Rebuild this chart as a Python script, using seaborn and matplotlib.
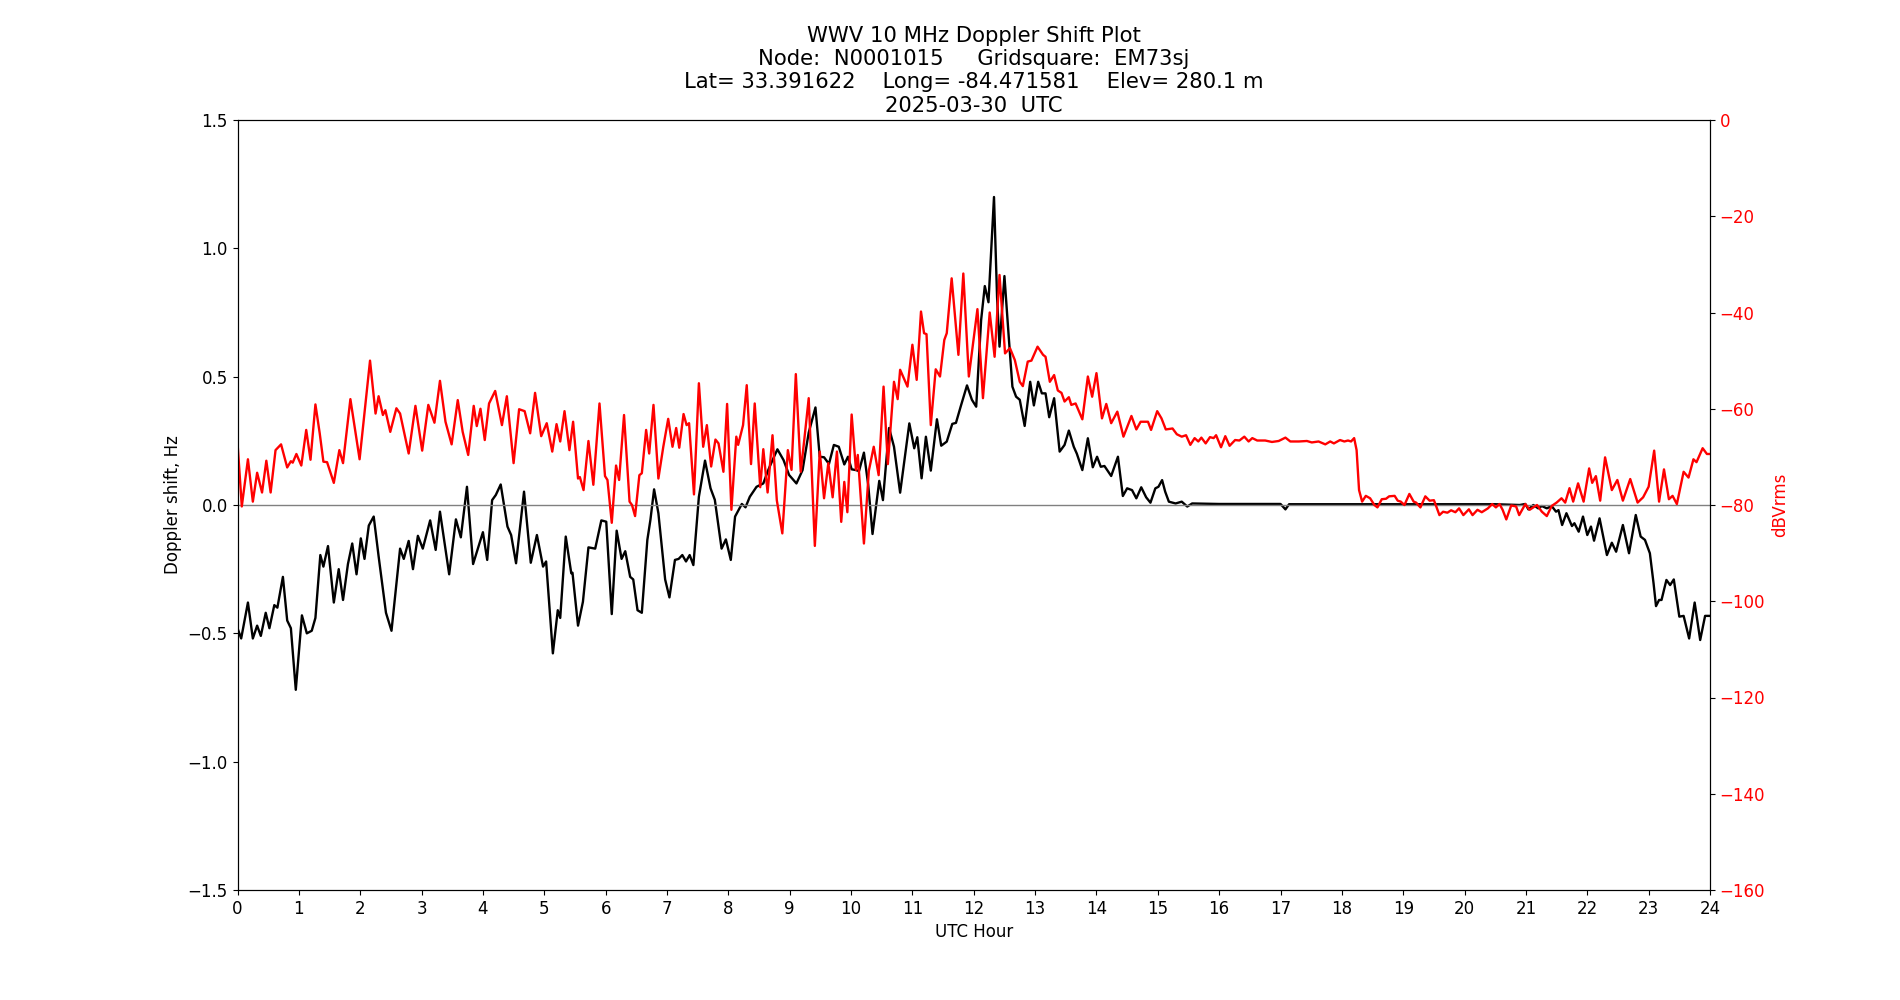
import matplotlib
matplotlib.use('Agg')
import matplotlib.pyplot as plt
import seaborn as sns
import pandas as pd

# Doppler shift (Hz) vs UTC hour
dop_hours = [0.00, 0.06, 0.17, 0.25, 0.32, 0.38, 0.46, 0.52, 0.60, 0.65, 0.74, 0.81, 0.87, 0.95,
             1.05, 1.13, 1.21, 1.27, 1.35, 1.40, 1.475, 1.57, 1.65, 1.72, 1.80, 1.87, 1.94,
             2.01, 2.07, 2.14, 2.22, 2.30, 2.42, 2.51, 2.58, 2.65, 2.71, 2.79, 2.86, 2.94,
             3.02, 3.14, 3.23, 3.30, 3.45, 3.56, 3.64, 3.74, 3.84, 3.93,
             4.00, 4.07, 4.15, 4.21, 4.29, 4.40, 4.46, 4.54, 4.67, 4.78, 4.88, 4.98,
             5.03, 5.14, 5.22, 5.26, 5.35, 5.44, 5.46, 5.55, 5.63, 5.72, 5.83, 5.93,
             6.01, 6.10, 6.18, 6.26, 6.32, 6.40, 6.45, 6.52, 6.59, 6.68, 6.73, 6.79, 6.86, 6.97,
             7.04, 7.13, 7.19, 7.25, 7.31, 7.37, 7.43, 7.52, 7.62, 7.71, 7.78, 7.89, 7.96,
             8.04, 8.11, 8.22, 8.28, 8.35, 8.46, 8.57, 8.65, 8.73, 8.80, 8.90, 8.99,
             9.11, 9.21, 9.31, 9.42, 9.49, 9.56, 9.64, 9.72, 9.80, 9.89, 9.95,
             10.01, 10.08, 10.13, 10.21, 10.28, 10.35, 10.46, 10.52, 10.62, 10.70, 10.80, 10.95,
             11.03, 11.08, 11.15, 11.22, 11.30, 11.40, 11.47, 11.56, 11.65, 11.71, 11.79, 11.89, 11.97,
             12.04, 12.12, 12.18, 12.24, 12.33, 12.38, 12.42, 12.50, 12.57, 12.63, 12.69, 12.75, 12.83,
             12.92, 12.98, 13.05, 13.11, 13.17, 13.23, 13.31, 13.40, 13.48, 13.55, 13.63, 13.68,
             13.77, 13.86, 13.94, 14.01, 14.07, 14.13, 14.24, 14.35, 14.43, 14.50, 14.58, 14.65,
             14.73, 14.81, 14.88, 14.96, 15.01, 15.07, 15.12, 15.18, 15.29, 15.39, 15.48, 15.56,
             16.00, 16.50, 17.00, 17.08, 17.14, 17.50, 18.00, 18.50, 19.00, 19.50, 20.00, 20.50,
             20.90, 20.99, 21.04, 21.12, 21.20, 21.26, 21.34, 21.42, 21.49, 21.53, 21.59, 21.66,
             21.75, 21.79, 21.86, 21.93, 22.00, 22.06, 22.11, 22.20, 22.32, 22.40, 22.47, 22.58,
             22.68, 22.79, 22.87, 22.94, 23.02, 23.08, 23.12, 23.17, 23.21, 23.29, 23.35, 23.41,
             23.50, 23.57, 23.66, 23.75, 23.84, 23.92, 23.99]
dop_hz = [-0.48, -0.52, -0.38, -0.52, -0.47, -0.51, -0.42, -0.48, -0.39, -0.40, -0.28, -0.45, -0.48, -0.72,
          -0.43, -0.50, -0.49, -0.44, -0.195, -0.24, -0.16, -0.38, -0.25, -0.37, -0.23, -0.15, -0.27,
          -0.13, -0.21, -0.08, -0.045, -0.20, -0.42, -0.49, -0.33, -0.17, -0.21, -0.14, -0.25, -0.12,
          -0.17, -0.06, -0.175, -0.026, -0.27, -0.056, -0.126, 0.071, -0.23, -0.16,
          -0.106, -0.214, 0.019, 0.039, 0.08, -0.084, -0.117, -0.227, 0.052, -0.225, -0.117, -0.24,
          -0.22, -0.578, -0.41, -0.44, -0.123, -0.266, -0.264, -0.47, -0.377, -0.165, -0.17, -0.06,
          -0.065, -0.425, -0.10, -0.21, -0.18, -0.28, -0.29, -0.41, -0.42, -0.136, -0.058, 0.061, -0.032, -0.29,
          -0.36, -0.214, -0.21, -0.195, -0.22, -0.195, -0.234, 0.032, 0.173, 0.065, 0.02, -0.17, -0.134,
          -0.214, -0.045, 0.004, -0.009, 0.032, 0.071, 0.084, 0.136, 0.18, 0.217, 0.175, 0.117,
          0.084, 0.136, 0.282, 0.38, 0.188, 0.186, 0.16, 0.234, 0.227, 0.158, 0.188,
          0.139, 0.136, 0.132, 0.204, 0.078, -0.113, 0.094, 0.019, 0.30, 0.227, 0.048, 0.318,
          0.221, 0.264, 0.104, 0.266, 0.134, 0.334, 0.231, 0.247, 0.316, 0.32, 0.386, 0.466, 0.41,
          0.383, 0.72, 0.853, 0.79, 1.20, 0.81, 0.617, 0.892, 0.656, 0.461, 0.422, 0.41, 0.308,
          0.48, 0.388, 0.48, 0.435, 0.435, 0.342, 0.416, 0.208, 0.234, 0.29, 0.227, 0.20,
          0.136, 0.26, 0.147, 0.188, 0.149, 0.152, 0.113, 0.188, 0.035, 0.065, 0.058, 0.026,
          0.069, 0.03, 0.009, 0.065, 0.071, 0.097, 0.052, 0.013, 0.006, 0.013, -0.006, 0.006,
          0.004, 0.004, 0.004, -0.017, 0.003, 0.003, 0.003, 0.003, 0.003, 0.003, 0.003, 0.003,
          0.0, 0.004, -0.017, 0.0, -0.013, -0.004, -0.013, -0.004, -0.026, -0.02, -0.078, -0.032,
          -0.082, -0.071, -0.104, -0.045, -0.117, -0.084, -0.139, -0.052, -0.195, -0.147, -0.182, -0.078,
          -0.188, -0.039, -0.123, -0.136, -0.188, -0.305, -0.394, -0.37, -0.37, -0.292, -0.312, -0.29,
          -0.435, -0.432, -0.52, -0.38, -0.526, -0.432, -0.432]

# Signal level (dBVrms) vs UTC hour
amp_hours = [0.00, 0.07, 0.17, 0.25, 0.32, 0.40, 0.47, 0.54, 0.62, 0.71, 0.81, 0.87, 0.90, 0.96,
             1.04, 1.12, 1.19, 1.27, 1.34, 1.40, 1.46, 1.57, 1.66, 1.72, 1.84, 1.99,
             2.16, 2.25, 2.30, 2.37, 2.41, 2.49, 2.59, 2.65, 2.79, 2.90,
             3.01, 3.11, 3.21, 3.30, 3.39, 3.49, 3.59, 3.67, 3.76, 3.85, 3.90, 3.96,
             4.03, 4.10, 4.20, 4.31, 4.39, 4.50, 4.59, 4.68, 4.77, 4.85, 4.95,
             5.04, 5.13, 5.20, 5.26, 5.33, 5.41, 5.47, 5.55, 5.58, 5.64, 5.72, 5.80, 5.90, 5.99,
             6.03, 6.10, 6.17, 6.22, 6.30, 6.39, 6.43, 6.48, 6.55, 6.59, 6.66, 6.71, 6.78, 6.86, 6.94,
             7.02, 7.09, 7.15, 7.20, 7.27, 7.32, 7.36, 7.44, 7.52, 7.59, 7.65, 7.72, 7.79, 7.84, 7.92, 7.98,
             8.05, 8.13, 8.16, 8.24, 8.30, 8.37, 8.43, 8.52, 8.57, 8.64, 8.72, 8.79, 8.88, 8.97,
             9.03, 9.10, 9.18, 9.24, 9.31, 9.41, 9.49, 9.56, 9.63, 9.70, 9.77, 9.84, 9.89, 9.94,
             10.01, 10.08, 10.11, 10.21, 10.29, 10.37, 10.45, 10.53, 10.60, 10.70, 10.76, 10.80, 10.92,
             11.00, 11.07, 11.14, 11.19, 11.23, 11.30, 11.38, 11.45, 11.52, 11.56, 11.64, 11.75, 11.83, 11.92,
             12.06, 12.15, 12.26, 12.34, 12.42, 12.51, 12.59, 12.67, 12.75, 12.80, 12.88, 12.94,
             13.04, 13.13, 13.17, 13.24, 13.31, 13.37, 13.43, 13.48, 13.55, 13.59, 13.66, 13.77, 13.86, 13.93,
             14.00, 14.09, 14.16, 14.24, 14.34, 14.44, 14.57, 14.65, 14.72, 14.84, 14.89, 14.99,
             15.06, 15.13, 15.24, 15.31, 15.39, 15.46, 15.53, 15.60, 15.66, 15.71, 15.78, 15.85, 15.91, 15.95,
             16.03, 16.10, 16.17, 16.26, 16.33, 16.41, 16.48, 16.54, 16.62, 16.75, 16.86, 16.97,
             17.08, 17.16, 17.30, 17.43, 17.51, 17.62, 17.73, 17.81, 17.87, 17.97,
             18.04, 18.10, 18.15, 18.20, 18.24, 18.28, 18.33, 18.39, 18.46, 18.53, 18.58, 18.65, 18.72,
             18.77, 18.86, 18.91, 18.96, 19.02, 19.10, 19.17, 19.21, 19.28, 19.36, 19.43, 19.50, 19.53,
             19.59, 19.65, 19.72, 19.78, 19.85, 19.91, 19.98, 20.07, 20.13, 20.21, 20.28, 20.38, 20.45,
             20.51, 20.57, 20.62, 20.68, 20.76, 20.84, 20.89, 20.99,
             21.06, 21.18, 21.26, 21.34, 21.42, 21.50, 21.58, 21.64, 21.71, 21.77, 21.85, 21.94,
             22.03, 22.08, 22.14, 22.21, 22.29, 22.40, 22.49, 22.58, 22.70, 22.82, 22.91,
             23.00, 23.09, 23.17, 23.25, 23.33, 23.39, 23.46, 23.57, 23.65, 23.73, 23.78, 23.88, 23.95, 24.00]
amp_db = [-67.0, -80.3, -70.5, -79.3, -73.3, -77.4, -70.8, -77.4, -68.6, -67.4, -72.2, -70.9, -71.2, -69.4,
          -71.8, -64.4, -70.6, -59.1, -65.1, -71.0, -71.1, -75.4, -68.6, -71.3, -58.0, -70.5,
          -50.0, -61.0, -57.4, -61.3, -60.3, -64.8, -59.9, -61.0, -69.3, -59.4,
          -68.7, -59.2, -62.9, -54.2, -62.7, -67.4, -58.2, -64.8, -69.6, -59.4, -63.6, -60.0,
          -66.5, -58.9, -56.3, -63.4, -57.4, -71.3, -60.1, -60.5, -65.1, -56.7, -65.7,
          -63.0, -68.9, -63.2, -66.8, -60.5, -68.6, -62.7, -74.5, -74.2, -76.9, -66.7, -75.8, -58.9, -74.0,
          -74.8, -83.7, -71.8, -74.8, -61.3, -79.3, -80.0, -82.3, -73.8, -73.4, -64.4, -69.3, -59.2, -74.5, -67.9,
          -62.1, -67.9, -64.0, -68.1, -61.1, -63.4, -63.0, -77.8, -54.7, -67.9, -63.4, -72.0, -66.4, -67.2, -73.1, -59.0,
          -81.0, -65.8, -67.5, -63.4, -55.1, -71.5, -58.9, -76.3, -68.4, -77.4, -65.5, -79.0, -85.9, -68.6,
          -72.7, -52.8, -73.1, -66.2, -57.8, -88.5, -68.9, -78.6, -71.3, -78.4, -68.9, -83.5, -75.2, -81.5,
          -61.2, -72.7, -69.6, -88.0, -72.9, -67.9, -73.8, -55.4, -71.5, -54.4, -58.0, -51.9, -55.4,
          -46.7, -54.0, -39.8, -44.3, -44.5, -63.4, -51.8, -53.3, -45.7, -44.3, -32.9, -48.8, -31.9, -53.3,
          -39.3, -57.8, -40.0, -49.2, -32.2, -48.5, -47.4, -49.9, -54.4, -55.3, -50.2, -50.0,
          -47.1, -48.8, -49.2, -54.4, -53.0, -56.2, -56.7, -58.5, -57.6, -59.2, -58.9, -62.2, -53.3, -57.5,
          -52.6, -62.0, -59.0, -63.0, -60.6, -65.8, -61.5, -64.3, -62.7, -62.7, -64.4, -60.5,
          -62.0, -64.3, -64.1, -65.3, -65.8, -65.5, -67.5, -66.1, -66.8, -66.0, -67.2, -65.9, -66.1, -65.5,
          -68.0, -65.7, -67.7, -66.5, -66.6, -65.8, -66.8, -66.1, -66.6, -66.6, -66.9, -66.7,
          -66.0, -66.8, -66.8, -66.7, -67.0, -66.8, -67.4, -66.8, -67.2, -66.5,
          -66.8, -66.6, -66.8, -66.1, -68.6, -76.9, -79.3, -78.1, -78.6, -80.0, -80.5, -78.8, -78.7,
          -78.2, -78.1, -79.1, -79.3, -80.0, -77.7, -79.3, -79.5, -80.5, -78.2, -79.1, -79.0, -80.0,
          -82.1, -81.4, -81.6, -81.1, -81.5, -80.7, -82.1, -80.9, -82.1, -81.0, -81.5, -80.7, -79.8,
          -80.5, -79.8, -81.0, -83.0, -80.1, -80.3, -82.1, -79.8,
          -81.0, -80.0, -81.4, -82.3, -80.2, -79.5, -78.6, -79.5, -76.5, -79.3, -75.5, -79.3,
          -72.4, -75.4, -74.0, -79.1, -70.1, -76.9, -74.8, -79.1, -74.6, -79.5, -78.4,
          -76.2, -68.7, -79.3, -72.6, -78.8, -78.1, -79.8, -73.1, -74.3, -70.5, -71.1, -68.2, -69.4, -69.4]

hour_ticks = list(range(0, 25))

title_lines = ["WWV 10 MHz Doppler Shift Plot",
               "Node:  N0001015     Gridsquare:  EM73sj",
               "Lat= 33.391622    Long= -84.471581    Elev= 280.1 m",
               "2025-03-30  UTC"]

plt.rcParams['font.size'] = 12

dop_df = pd.DataFrame({"hour": dop_hours, "shift": dop_hz})
amp_df = pd.DataFrame({"hour": amp_hours, "level": amp_db})

fig, ax = plt.subplots(figsize=(19, 10), dpi=100)
sns.lineplot(data=dop_df, x="hour", y="shift", color="black", linewidth=1.7, ax=ax, errorbar=None)
ax.axhline(0, color="grey", linewidth=1)
ax.set_xlim(0, 24)
ax.set_ylim(-1.5, 1.5)
ax.set_xticks(hour_ticks)
ax.set_xlabel("UTC Hour")
ax.set_ylabel("Doppler shift, Hz")
ax.set_title("\n".join(title_lines), fontsize=15.2)

ax2 = ax.twinx()
sns.lineplot(data=amp_df, x="hour", y="level", color="red", linewidth=1.7, ax=ax2, errorbar=None)
ax2.set_ylim(-160, 0)
ax2.set_ylabel("dBVrms", color="red")
ax2.tick_params(axis="y", labelcolor="red")

fig.savefig("out.png", dpi=100)
